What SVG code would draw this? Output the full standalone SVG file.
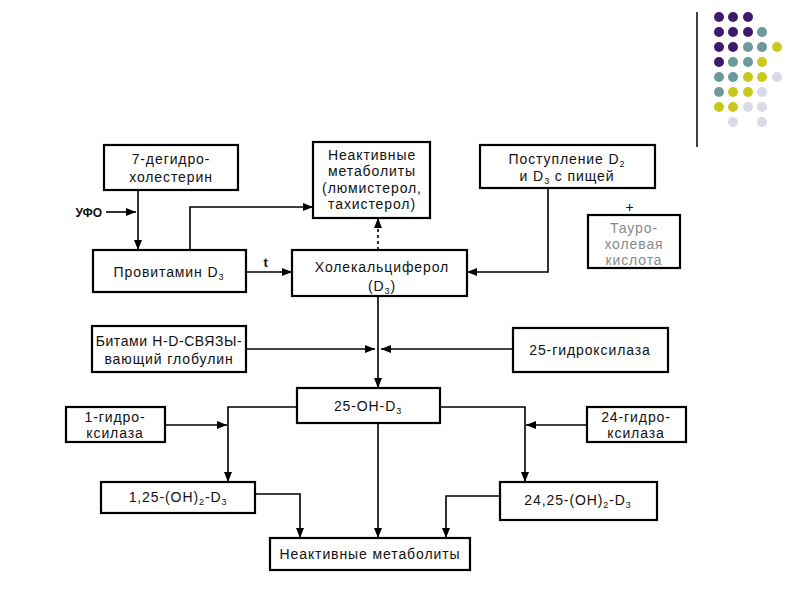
<svg xmlns="http://www.w3.org/2000/svg" width="800" height="600" viewBox="0 0 800 600">
<style>
.box{fill:#fff;stroke:#000;stroke-width:2.2}
.t{font-family:"Liberation Sans",Arial,sans-serif;font-size:14px;letter-spacing:0.9px;fill:#111;text-anchor:middle}
.fade{fill:#8a8a8a}
.c{fill:none;stroke:#000;stroke-width:1.6}
.dash{stroke-dasharray:3 3}
.sub{font-size:9px}
.p{fill:#3f1a6b}.g{fill:#6c999b}.y{fill:#c9c91c}.l{fill:#d9d9e8}
</style>
<defs>
<marker id="ah" viewBox="0 0 10 8" refX="10" refY="4" markerWidth="10" markerHeight="8" markerUnits="userSpaceOnUse" orient="auto">
<path d="M0,0 L10,4 L0,8 z" fill="#000"/>
</marker>
</defs>

<g id="decor">
<line x1="697" y1="12" x2="697" y2="147" stroke="#000" stroke-width="1.5"/>
<circle class="p" cx="719" cy="17" r="5"/><circle class="p" cx="733" cy="17" r="5"/><circle class="p" cx="748" cy="17" r="5"/>
<circle class="p" cx="719" cy="32" r="5"/><circle class="p" cx="733" cy="32" r="5"/><circle class="p" cx="748" cy="32" r="5"/><circle class="g" cx="762" cy="32" r="5"/>
<circle class="p" cx="719" cy="47" r="5"/><circle class="p" cx="733" cy="47" r="5"/><circle class="g" cx="748" cy="47" r="5"/><circle class="g" cx="762" cy="47" r="5"/><circle class="y" cx="777" cy="47" r="5"/>
<circle class="p" cx="719" cy="62" r="5"/><circle class="g" cx="733" cy="62" r="5"/><circle class="g" cx="748" cy="62" r="5"/><circle class="y" cx="762" cy="62" r="5"/>
<circle class="g" cx="719" cy="77" r="5"/><circle class="g" cx="733" cy="77" r="5"/><circle class="y" cx="748" cy="77" r="5"/><circle class="y" cx="762" cy="77" r="5"/><circle class="l" cx="777" cy="77" r="5"/>
<circle class="g" cx="719" cy="92" r="5"/><circle class="y" cx="733" cy="92" r="5"/><circle class="y" cx="748" cy="92" r="5"/><circle class="l" cx="762" cy="92" r="5"/>
<circle class="y" cx="719" cy="107" r="5"/><circle class="y" cx="733" cy="107" r="5"/><circle class="l" cx="748" cy="107" r="5"/><circle class="l" cx="762" cy="107" r="5"/>
<circle class="l" cx="733" cy="122" r="5"/><circle class="l" cx="762" cy="122" r="5"/>
</g>

<g id="connectors">
<line class="c" x1="106" y1="212" x2="136" y2="212" stroke-width="2" marker-end="url(#ah)"/>
<line class="c" x1="138" y1="190" x2="138" y2="250" marker-end="url(#ah)"/>
<path class="c" d="M190,250 V207 H313" marker-end="url(#ah)"/>
<line class="c" x1="246" y1="272" x2="292" y2="272" marker-end="url(#ah)"/>
<line class="c dash" x1="378" y1="250" x2="378" y2="218" marker-end="url(#ah)"/>
<path class="c" d="M548,188 V272 H467" marker-end="url(#ah)"/>
<line class="c" x1="378" y1="296" x2="378" y2="388" marker-end="url(#ah)"/>
<line class="c" x1="246" y1="349" x2="375" y2="349" marker-end="url(#ah)"/>
<line class="c" x1="513" y1="349" x2="381" y2="349" marker-end="url(#ah)"/>
<path class="c" d="M297,407 H228 V482" marker-end="url(#ah)"/>
<line class="c" x1="165" y1="425" x2="227" y2="425" marker-end="url(#ah)"/>
<path class="c" d="M440,407 H525 V482" marker-end="url(#ah)"/>
<line class="c" x1="587" y1="425" x2="526" y2="425" marker-end="url(#ah)"/>
<line class="c" x1="378" y1="423" x2="378" y2="538" marker-end="url(#ah)"/>
<path class="c" d="M255,494 H300 V538" marker-end="url(#ah)"/>
<path class="c" d="M500,496 H446 V538" marker-end="url(#ah)"/>
<text class="t" x="102" y="217" style="font-weight:bold;font-size:12px;letter-spacing:0;text-anchor:end">УФО</text>
<text class="t" x="266" y="267" style="font-weight:bold;font-size:13px">t</text>
<text class="t" x="630" y="212">+</text>
</g>

<g id="n-dehydro">
<rect class="box" x="104" y="145" width="134" height="45"/>
<text class="t" x="171" y="164">7-дегидро-</text>
<text class="t" x="171" y="182">холестерин</text>
</g>

<g id="n-inactive-top">
<rect class="box" x="313" y="142" width="117" height="76"/>
<text class="t" x="372" y="160">Неактивные</text>
<text class="t" x="372" y="176">метаболиты</text>
<text class="t" x="372" y="193">(люмистерол,</text>
<text class="t" x="372" y="209">тахистерол)</text>
</g>

<g id="n-food">
<rect class="box" x="480" y="145" width="175" height="43"/>
<text class="t" x="567" y="164">Поступление D<tspan class="sub" dy="3">2</tspan></text>
<text class="t" x="567" y="181">и D<tspan class="sub" dy="3">3</tspan><tspan dy="-3"> с пищей</tspan></text>
</g>

<g id="n-tauro">
<rect class="box" x="588" y="215" width="92" height="53"/>
<text class="t fade" x="634" y="233">Тауро-</text>
<text class="t fade" x="634" y="249">холевая</text>
<text class="t fade" x="634" y="265">кислота</text>
</g>

<g id="n-provit">
<rect class="box" x="93" y="250" width="153" height="42"/>
<text class="t" x="169" y="277">Провитамин D<tspan class="sub" dy="3">3</tspan></text>
</g>

<g id="n-chole">
<rect class="box" x="292" y="250" width="175" height="46"/>
<text class="t" x="382" y="272">Холекальциферол</text>
<text class="t" x="382" y="291">(D<tspan class="sub" dy="3">3</tspan><tspan dy="-3">)</tspan></text>
</g>

<g id="n-globulin">
<rect class="box" x="92" y="326" width="154" height="46"/>
<text class="t" x="169" y="346" style="letter-spacing:0.6px">Битами Н-D-СВЯЗЫ-</text>
<text class="t" x="169" y="364">вающий глобулин</text>
</g>

<g id="n-25hydroxylase">
<rect class="box" x="513" y="328" width="155" height="44"/>
<text class="t" x="590" y="355">25-гидроксилаза</text>
</g>

<g id="n-25oh">
<rect class="box" x="297" y="388" width="143" height="35"/>
<text class="t" x="368" y="411">25-OH-D<tspan class="sub" dy="3">3</tspan></text>
</g>

<g id="n-1hydroxylase">
<rect class="box" x="66" y="407" width="99" height="35"/>
<text class="t" x="115" y="422">1-гидро-</text>
<text class="t" x="115" y="438">ксилаза</text>
</g>

<g id="n-24hydroxylase">
<rect class="box" x="587" y="407" width="99" height="35"/>
<text class="t" x="636" y="422">24-гидро-</text>
<text class="t" x="636" y="438">ксилаза</text>
</g>

<g id="n-125">
<rect class="box" x="101" y="482" width="154" height="31"/>
<text class="t" x="178" y="502">1,25-(OH)<tspan class="sub" dy="3">2</tspan><tspan dy="-3">-D</tspan><tspan class="sub" dy="3">3</tspan></text>
</g>

<g id="n-2425">
<rect class="box" x="500" y="482" width="157" height="38"/>
<text class="t" x="578" y="505">24,25-(OH)<tspan class="sub" dy="3">2</tspan><tspan dy="-3">-D</tspan><tspan class="sub" dy="3">3</tspan></text>
</g>

<g id="n-inactive-bottom">
<rect class="box" x="270" y="538" width="200" height="32"/>
<text class="t" x="370" y="559">Неактивные метаболиты</text>
</g>
</svg>
